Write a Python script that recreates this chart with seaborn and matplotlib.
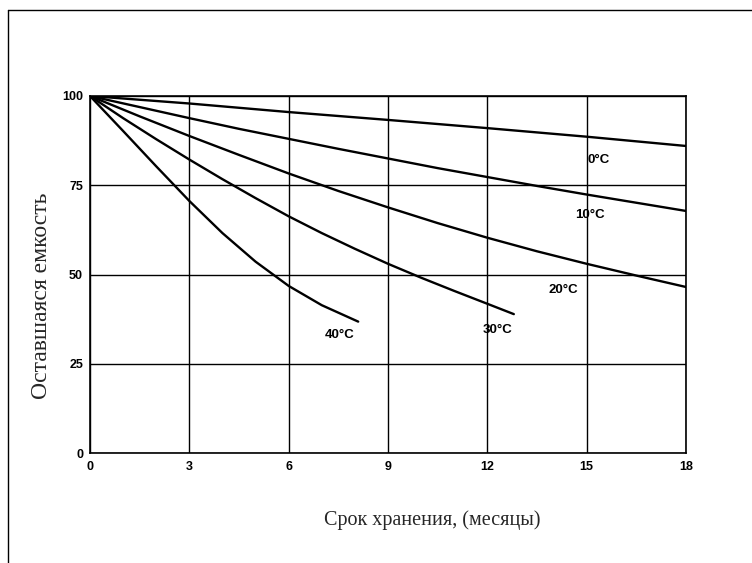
import matplotlib
matplotlib.use("Agg")
import matplotlib.pyplot as plt
import seaborn as sns
import pandas as pd
from matplotlib.lines import Line2D

# ---- data ----
months_0 = [0, 3, 6, 9, 12, 15, 18]
cap_0 = [100, 97.9, 95.5, 93.3, 91.0, 88.6, 86.0]

months_10 = [0, 1.5, 3, 4.5, 6, 7.5, 9, 10.5, 12, 13.5, 15, 16.5, 18]
cap_10 = [100, 96.9, 93.8, 90.8, 88.0, 85.2, 82.5, 79.8, 77.3, 74.8, 72.4, 70.1, 67.8]

months_20 = [0, 1.5, 3, 4.5, 6, 7.5, 9, 10.5, 12, 13.5, 15, 16.5, 18]
cap_20 = [100, 94.3, 88.8, 83.5, 78.3, 73.4, 68.8, 64.4, 60.3, 56.5, 53.0, 49.7, 46.5]

months_30 = [0, 1, 2, 3, 4, 5, 6, 7, 8, 9, 10, 11, 12, 12.8]
cap_30 = [100, 93.8, 87.9, 82.2, 76.7, 71.4, 66.3, 61.6, 57.2, 53.0, 49.1, 45.4, 41.8, 38.9]

months_40 = [0, 1, 2, 3, 4, 5, 6, 7, 8.1]
cap_40 = [100, 90.2, 80.3, 70.6, 61.6, 53.6, 46.8, 41.4, 36.8]

series_labels = ["0°C", "10°C", "20°C", "30°C", "40°C"]
label_pos = [(15.35, 82.0), (15.1, 66.6), (14.3, 45.6), (12.3, 34.4), (7.55, 33.0)]

x_ticks = [0, 3, 6, 9, 12, 15, 18]
y_ticks = [0, 25, 50, 75, 100]
x_label = "Срок хранения, (месяцы)"
y_label = "Оставшаяся емкость"

frames = []
for lab, m, c in zip(series_labels,
                     [months_0, months_10, months_20, months_30, months_40],
                     [cap_0, cap_10, cap_20, cap_30, cap_40]):
    frames.append(pd.DataFrame({"month": m, "cap": c, "temp": lab}))
df = pd.concat(frames, ignore_index=True)

sns.set_style("white")
tick_family = ["Liberation Sans", "DejaVu Sans"]
plt.rcParams["font.family"] = tick_family

fig = plt.figure(figsize=(7.52, 5.63), dpi=100)
ax = fig.add_axes([90 / 752, 1 - 453 / 563, (686 - 90) / 752, (453 - 96) / 563])

sns.lineplot(data=df, x="month", y="cap", units="temp", estimator=None,
             color="black", linewidth=1.7, ax=ax, sort=False)

ax.set_xlim(0, 18)
ax.set_ylim(0, 100)
ax.set_xticks(x_ticks)
ax.set_yticks(y_ticks)
ax.set_xticklabels([str(t) for t in x_ticks])
ax.set_yticklabels([str(t) for t in y_ticks])
ax.tick_params(axis="both", length=0, labelsize=9, colors="black")
ax.tick_params(axis="x", pad=6)
ax.tick_params(axis="y", pad=5)
for lbl in ax.get_xticklabels() + ax.get_yticklabels():
    lbl.set_fontweight("bold")
ax.grid(True, color="black", linewidth=1.0)
for s in ax.spines.values():
    s.set_color("black")
    s.set_linewidth(1.2)

ax.set_xlabel("")
ax.set_ylabel("")

for lab, (px, py) in zip(series_labels, label_pos):
    ax.text(px, py, lab, ha="center", va="center", fontsize=9.5, fontweight="bold",
            color="black", family=tick_family)

fig.text(432 / 752, 1 - 520 / 563, x_label, ha="center", va="center",
         fontsize=14.5, family=["Liberation Serif", "DejaVu Serif"])
fig.text(42 / 752, 1 - 296 / 563, y_label, ha="center", va="center",
         rotation=90, fontsize=17, family=["Liberation Serif", "DejaVu Serif"])

# outer frame (top and left edges visible)
fig.add_artist(Line2D([8 / 752, 8 / 752], [1 - 10 / 563, 0], transform=fig.transFigure,
                      color="black", linewidth=1))
fig.add_artist(Line2D([8 / 752, 1], [1 - 10 / 563, 1 - 10 / 563], transform=fig.transFigure,
                      color="black", linewidth=1))

fig.savefig("out.png", dpi=100, facecolor="white")
